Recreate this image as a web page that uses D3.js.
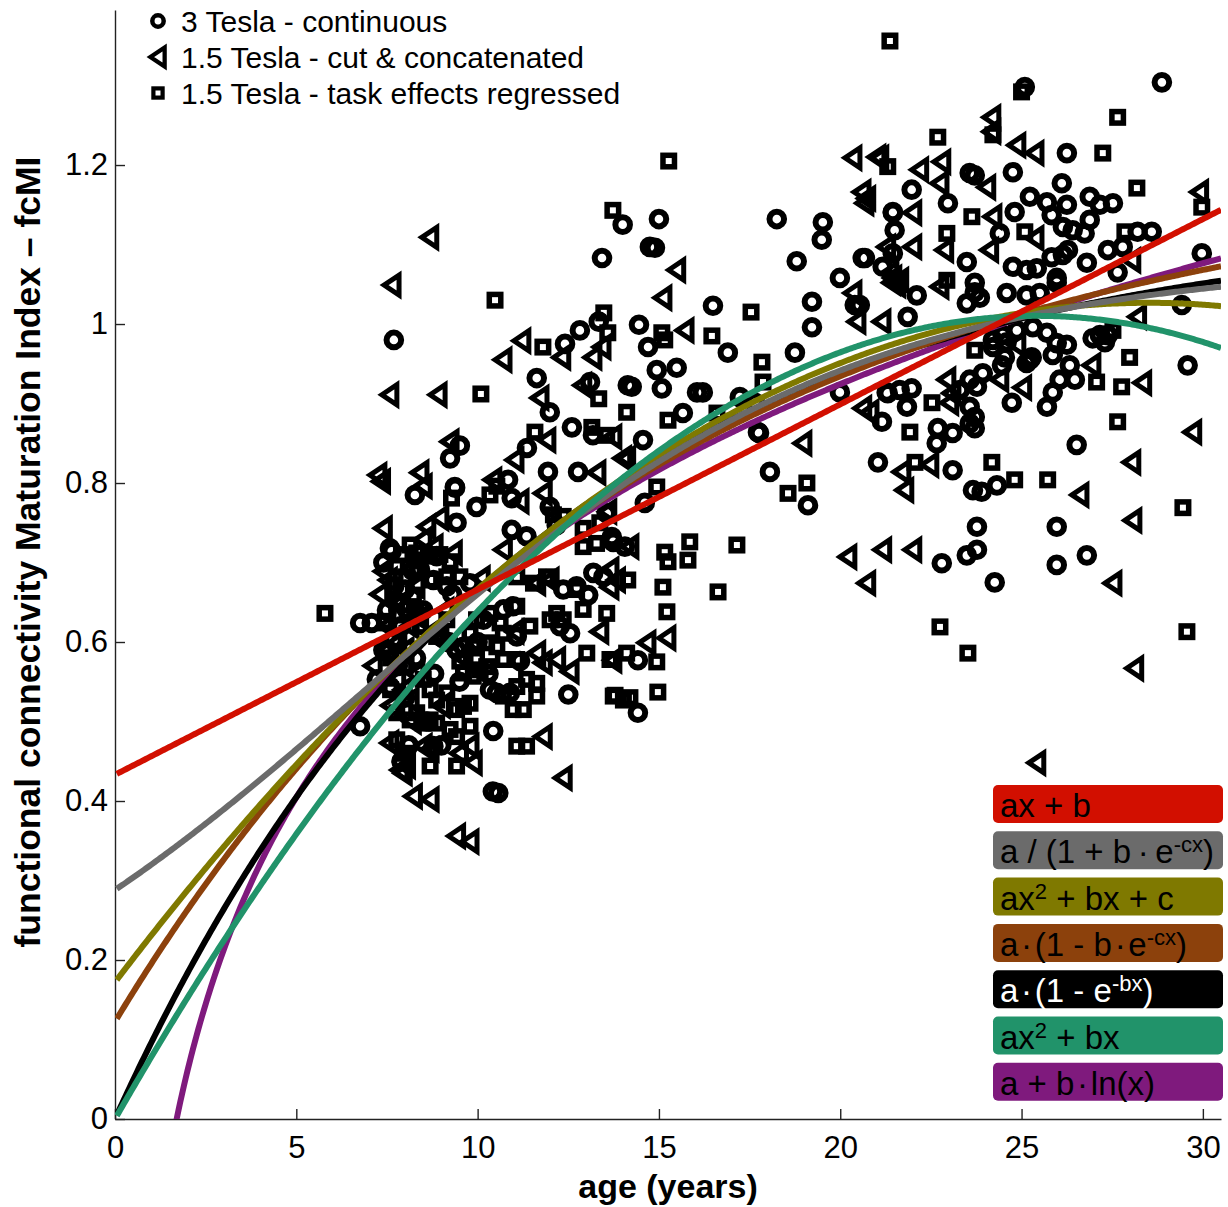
<!DOCTYPE html>
<html>
<head>
<meta charset="utf-8">
<script src="https://cdn.jsdelivr.net/npm/d3@7"></script>
<style>
body{margin:0;background:#fff;}
svg text{font-family:"Liberation Sans",Arial,Helvetica,sans-serif;}
</style>
</head>
<body>
<svg id="chart" width="1228" height="1207"></svg>
<script>
var ageTicks = [0, 5, 10, 15, 20, 25, 30];
var fcmiTicks = [0, 0.2, 0.4, 0.6, 0.8, 1, 1.2];

var seriesNames = ["3 Tesla - continuous", "1.5 Tesla - cut & concatenated", "1.5 Tesla - task effects regressed"];

// [age, fcMI]
var tesla3Continuous = [
	[7.69,0.98],[12.41,0.975],[12.82,0.992],[13.34,1.003],[13.43,1.083],[14.0,1.125],[11.63,0.932],[11.99,0.889],
	[13.10,0.927],[14.14,0.923],[12.60,0.870],[13.18,0.860],[11.36,0.844],[9.51,0.847],[9.24,0.831],[11.94,0.814],
	[12.77,0.814],[10.84,0.804],[9.37,0.795],[8.27,0.785],[9.38,0.794],[9.97,0.770],[10.94,0.781],[11.99,0.770],
	[9.42,0.750],[10.94,0.741],[11.35,0.733],[7.58,0.718],[7.63,0.714],[8.87,0.708],[6.76,0.624],[7.08,0.624],
	[7.53,0.587],[7.40,0.590],[7.68,0.603],[8.04,0.641],[12.50,0.534],[10.43,0.488],[10.57,0.410],[10.42,0.412],
	[8.78,0.469],[6.76,0.494],[12.18,0.747],[13.74,0.726],[14.06,0.720],[13.56,0.762],[12.36,0.666],[12.73,0.670],
	[13.05,0.659],[13.19,0.687],[13.47,0.682],[9.79,0.674],[8.41,0.691],[8.78,0.678],[9.15,0.670],[8.00,0.666],
	[7.22,0.553],[7.58,0.544],[10.16,0.628],[10.71,0.641],[10.98,0.645],[11.08,0.607],[9.42,0.590],[9.61,0.594],
	[11.17,0.576],[10.34,0.540],[10.53,0.536],[10.89,0.536],[12.27,0.620],[12.55,0.611],
	[7.9,0.62],[8.3,0.58],[8.8,0.56],[9.2,0.60],[8.0,0.53],[8.6,0.50],[9.0,0.47],[9.5,0.55],[10.0,0.60],
	[10.3,0.56],[7.7,0.67],[8.5,0.64],[9.3,0.66],[7.4,0.70],[7.8,0.57],[8.2,0.69],[7.5,0.64],[8.1,0.47],[7.9,0.45],
	[18.06,0.814],[19.11,0.772],[21.04,0.826],[14.42,0.577],[14.42,0.511],[13.70,0.732],[14.61,0.775],[17.76,0.863],
	[14.56,0.854],[15.0,1.132],[14.75,1.097],[14.89,1.096],[16.49,1.023],[14.45,0.999],[14.70,0.971],[16.90,0.964],
	[15.49,0.945],[14.94,0.942],[14.25,0.921],[15.08,0.919],[16.05,0.914],[16.21,0.914],[17.23,0.908],[17.65,0.901],
	[15.66,0.888],[17.73,0.864],[18.25,1.132],[19.52,1.128],[19.49,1.106],[18.80,1.079],[19.99,1.058],[20.40,1.024],
	[19.22,1.028],[19.22,0.996],[18.75,0.964],[20.62,1.083],[21.45,1.141],[21.50,1.118],[21.45,1.089],[21.17,1.072],
	[19.99,0.914],[21.31,0.913],[21.15,0.877],
	[25.09,1.298],[28.87,1.304],[26.25,1.215],[24.76,1.191],[23.57,1.190],[23.71,1.187],[26.11,1.177],[21.97,1.169],
	[22.97,1.152],[25.23,1.160],[25.70,1.153],[26.25,1.150],[26.88,1.160],[27.52,1.152],[27.16,1.150],[21.45,1.140],
	[24.81,1.141],[25.83,1.137],[26.14,1.122],[26.41,1.118],[26.74,1.114],[26.88,1.131],[24.40,1.114],[28.20,1.116],
	[28.59,1.116],[20.68,1.083],[23.49,1.078],[24.76,1.072],[25.14,1.068],[25.42,1.070],[25.83,1.084],[26.14,1.087],
	[26.28,1.093],[26.80,1.077],[27.38,1.093],[27.79,1.097],[27.65,1.065],[29.97,1.089],[23.71,1.052],[25.97,1.058],
	[29.42,1.024],[29.58,0.948],[26.96,0.982],[27.16,0.986],[27.30,0.977],[27.38,0.986],[26.33,0.948],[26.47,0.930],
	[26.05,0.930],[25.86,0.914],[25.70,0.896],[24.73,0.901],[25.14,0.951],[25.28,0.958],[25.86,0.961],[26.25,0.974],
	[24.46,0.948],[24.54,0.958],[24.21,0.980],[24.48,0.986],[24.87,0.992],[25.31,0.996],[25.70,0.989],[25.97,0.976],
	[24.59,1.039],[25.14,1.036],[25.50,1.039],[25.97,1.052],[23.49,1.026],[23.85,1.033],[23.71,1.040],[22.11,1.036],
	[21.86,1.009],[20.54,1.024],[24.21,0.971],[24.59,0.977],[25.23,0.955],[23.30,0.917],[23.57,0.930],[23.77,0.921],
	[23.93,0.938],[23.57,0.896],[23.71,0.883],[23.57,0.875],[23.71,0.869],[21.28,0.914],[21.64,0.917],[21.97,0.919],
	[21.84,0.896],[22.69,0.869],[22.66,0.850],[23.10,0.863],[23.10,0.816],[23.66,0.791],[23.90,0.789],[24.32,0.797],
	[26.52,0.848],[23.77,0.745],[25.97,0.745],[22.80,0.699],[23.49,0.709],[23.77,0.716],[24.26,0.675],[25.97,0.697],
	[26.80,0.709]
];

var tesla15Cut = [
	[8.68,1.109],[7.64,1.049],[11.22,0.979],[12.32,0.958],[10.70,0.955],[13.18,0.958],[13.43,0.971],[7.58,0.911],
	[8.91,0.911],[11.72,0.907],[12.90,0.923],[11.91,0.854],[13.73,0.858],[11.03,0.829],[9.24,0.852],[7.25,0.810],
	[8.41,0.813],[13.29,0.813],[14.0,0.831],[10.42,0.804],[7.35,0.802],[8.50,0.796],[11.17,0.777],[11.81,0.787],
	[7.40,0.743],[8.60,0.745],[8.96,0.756],[10.71,0.716],[8.50,0.729],[9.33,0.712],[7.40,0.689],[7.54,0.678],
	[11.63,0.674],[12.00,0.678],[13.65,0.691],[13.83,0.678],[13.37,0.613],[8.14,0.620],[8.69,0.611],[8.96,0.603],
	[11.03,0.613],[11.63,0.586],[11.81,0.574],[12.18,0.578],[12.55,0.563],[7.77,0.553],[7.95,0.540],[8.14,0.527],
	[7.58,0.473],[8.50,0.469],[8.69,0.465],[7.86,0.439],[7.95,0.435],[8.04,0.444],[8.23,0.406],[8.69,0.402],
	[9.42,0.356],[9.79,0.349],[12.36,0.429],[9.88,0.448],[9.79,0.469],[11.81,0.481],[7.12,0.570],
	[8.0,0.59],[8.4,0.63],[9.1,0.64],[9.6,0.58],[8.2,0.50],[9.0,0.52],[9.5,0.46],[7.9,0.65],[8.8,0.72],[10.1,0.68],
	[7.5,0.62],[7.8,0.60],[8.3,0.67],[7.6,0.52],[8.3,0.56],[7.3,0.66],
	[18.97,0.850],[20.21,0.707],[21.17,0.716],[20.73,0.674],[15.22,0.605],[14.67,0.599],[13.73,0.577],[13.65,0.669],
	[14.20,0.720],[13.59,0.764],[14.11,0.831],[15.49,1.068],[15.11,1.033],[15.72,0.992],[20.35,1.209],[21.01,1.210],
	[20.60,1.166],[20.68,1.152],[21.28,1.097],[21.37,1.064],[21.42,1.052],[20.35,1.039],[20.46,1.003],[21.15,1.003],
	[20.82,0.889],[24.18,1.260],[24.18,1.242],[24.87,1.225],[25.37,1.215],[21.09,1.209],[22.19,1.194],[22.80,1.204],
	[22.75,1.177],[24.04,1.172],[20.73,1.158],[29.91,1.166],[22.0,1.140],[24.21,1.135],[25.37,1.108],[28.04,1.080],
	[22.0,1.097],[22.88,1.093],[24.12,1.093],[21.45,1.058],[21.64,1.055],[28.20,1.009],[28.34,0.926],[26.94,0.948],
	[25.03,0.920],[24.40,0.930],[22.75,1.047],[21.56,1.049],[24.87,0.974],[22.94,0.930],[23.08,0.913],[20.62,0.894],
	[23.02,0.901],[22.47,0.823],[21.70,0.814],[21.78,0.791],[28.04,0.826],[29.72,0.864],[26.61,0.785],[28.07,0.753],
	[22.0,0.716],[27.52,0.674],[28.12,0.567],[25.42,0.448]
];

var tesla15Regressed = [
	[10.48,1.030],[11.80,0.971],[13.48,1.014],[13.59,0.989],[13.73,1.143],[10.09,0.912],[13.34,0.906],[14.11,0.889],
	[11.58,0.864],[13.15,0.870],[13.56,0.860],[9.28,0.781],[10.34,0.785],[10.53,0.796],[8.14,0.722],[8.32,0.712],
	[8.41,0.703],[8.69,0.708],[8.96,0.710],[9.24,0.701],[12.09,0.760],[12.36,0.758],[12.91,0.743],[13.37,0.750],
	[12.91,0.720],[13.28,0.724],[7.77,0.695],[8.04,0.682],[8.32,0.689],[8.69,0.678],[9.15,0.682],[9.51,0.682],
	[11.08,0.682],[11.54,0.674],[11.90,0.682],[12.73,0.666],[13.56,0.636],[8.23,0.659],[7.77,0.649],[7.45,0.626],
	[7.77,0.634],[8.41,0.620],[8.87,0.607],[9.15,0.628],[9.97,0.628],[10.34,0.636],[10.62,0.624],[11.08,0.645],
	[11.44,0.620],[9.79,0.611],[9.88,0.594],[10.25,0.599],[10.53,0.594],[10.71,0.611],[9.51,0.576],[9.97,0.578],
	[10.25,0.569],[10.71,0.578],[11.08,0.578],[12.00,0.628],[12.18,0.636],[12.36,0.628],[12.91,0.641],[13.01,0.586],
	[13.65,0.578],[9.61,0.561],[9.88,0.557],[10.07,0.565],[10.71,0.532],[11.08,0.544],[11.35,0.553],[11.63,0.548],
	[10.98,0.515],[11.26,0.515],[11.63,0.532],[13.74,0.532],[14.02,0.527],[8.50,0.553],[8.69,0.540],[8.87,0.527],
	[9.15,0.536],[9.42,0.515],[9.61,0.519],[9.79,0.523],[8.32,0.511],[8.69,0.502],[7.77,0.511],[8.14,0.502],
	[8.50,0.498],[8.87,0.498],[9.24,0.490],[9.42,0.481],[9.79,0.494],[11.08,0.469],[11.35,0.469],[8.69,0.444],
	[9.42,0.444],[7.77,0.477],[14.11,0.586],[5.79,0.636],[7.44,0.624],
	[7.6,0.58],[8.0,0.57],[7.9,0.71],[8.3,0.64],[7.6,0.54],[8.0,0.46],
	[18.56,0.787],[19.08,0.800],[15.16,0.713],[15.85,0.726],[15.80,0.703],[15.25,0.701],[17.15,0.722],[15.11,0.669],
	[16.63,0.663],[15.22,0.638],[14.94,0.575],[14.97,0.537],[13.79,0.533],[14.20,0.530],[14.14,0.678],[14.94,0.795],
	[15.27,1.205],[17.54,1.015],[16.46,0.985],[15.08,0.989],[15.16,0.980],[17.84,0.952],[17.87,0.927],[16.60,0.888],
	[15.25,0.879],[21.31,1.198],[21.37,1.356],[25.0,1.292],[27.65,1.260],[24.21,1.238],[22.69,1.235],[27.24,1.215],
	[28.18,1.171],[29.97,1.147],[23.63,1.135],[22.94,1.114],[25.09,1.116],[27.85,1.116],[22.94,1.055],[27.98,0.958],
	[27.76,0.921],[27.07,0.927],[27.52,0.992],[23.71,0.967],[21.92,0.864],[22.53,0.901],[22.06,0.826],[24.18,0.826],
	[24.81,0.804],[25.72,0.804],[27.65,0.877],[29.45,0.769],[22.75,0.619],[23.52,0.586],[29.56,0.613]
];

// fitted models, legend order
var dot = "\u200a\u00b7\u200a";
var fitLabels = [
	[["ax + b", 0]],
	[["a / (1 + b\u2009\u00b7\u2009e", 0], ["-cx", 1], [")", 0]],
	[["ax", 0], ["2", 1], [" + bx + c", 0]],
	[["a" + dot + "(1 - b" + dot + "e", 0], ["-cx", 1], [")", 0]],
	[["a" + dot + "(1 - e", 0], ["-bx", 1], [")", 0]],
	[["ax", 0], ["2", 1], [" + bx", 0]],
	[["a + b" + dot + "ln(x)", 0]]
];
var fitColours = ["#d20f00", "#6b6b6b", "#7f7900", "#8c410c", "#000000", "#21936a", "#7f1a7d"];
var fitTextColours = ["#000", "#000", "#000", "#000", "#fff", "#000", "#000"];
var fitParams = [
	[0.0233, 0.433],
	[1.08, 2.75, 0.1464],
	[-0.001053, 0.0600, 0.172],
	[1.2, 0.898, 0.07],
	[1.13, 0.0887],
	[-0.001564, 0.0795],
	[-0.199, 0.375]
];
var fitModels = [
	function(p, t){ return p[0]*t + p[1]; },
	function(p, t){ return p[0]/(1 + p[1]*Math.exp(-p[2]*t)); },
	function(p, t){ return p[0]*t*t + p[1]*t + p[2]; },
	function(p, t){ return p[0]*(1 - p[1]*Math.exp(-p[2]*t)); },
	function(p, t){ return p[0]*(1 - Math.exp(-p[1]*t)); },
	function(p, t){ return p[0]*t*t + p[1]*t; },
	function(p, t){ return p[0] + p[1]*Math.log(t); }
];
//drawing order of the curves (bottom to top)
var drawOrder = [6, 4, 3, 2, 1, 5, 0];

var svg = d3.select("#chart");
var font = "'Liberation Sans',Arial,Helvetica,sans-serif";

var x = d3.scaleLinear().domain([0, 30.5]).range([115, 1221]);
var y = d3.scaleLinear().domain([0, 1.395]).range([1119, 10]);

svg.append("defs").append("clipPath").attr("id", "plotClip")
	.append("rect")
		.attr("x", x(0)).attr("y", y(1.395))
		.attr("width", x(30.5) - x(0)).attr("height", y(0) - y(1.395));

//axes
var gx = svg.append("g")
	.attr("transform", "translate(0," + y(0) + ")")
	.call(d3.axisBottom(x).tickValues(ageTicks).tickSizeInner(-10).tickSizeOuter(0).tickPadding(17)
		.tickFormat(function(d){ return d; }));
var gy = svg.append("g")
	.attr("transform", "translate(" + x(0) + ",0)")
	.call(d3.axisLeft(y).tickValues(fcmiTicks).tickSizeInner(-10).tickSizeOuter(0).tickPadding(7)
		.tickFormat(function(d){ return String(+d.toFixed(1)); }));
[gx, gy].forEach(function(g){
	g.attr("font-size", 31).attr("font-family", font);
	g.selectAll("path.domain").attr("stroke", "#222").attr("stroke-width", 1.4);
	g.selectAll(".tick line").attr("stroke", "#222").attr("stroke-width", 1.4);
	g.selectAll(".tick text").attr("fill", "#000");
});

svg.append("text")
	.attr("x", 668).attr("y", 1198)
	.attr("text-anchor", "middle")
	.attr("font-size", 34).attr("font-weight", "bold")
	.text("age (years)");
svg.append("text")
	.attr("transform", "translate(40,552) rotate(-90)")
	.attr("text-anchor", "middle")
	.attr("font-size", 35.5).attr("font-weight", "bold")
	.text("functional connectivity Maturation Index \u2013 fcMI");

//markers
var triPath = "M-8,0L7,-10L7,10Z";
function drawMarker(sel, kind, scale){
	var s = scale || 1;
	if(kind === 0)
		sel.append("circle").attr("r", 7.3*s);
	else if(kind === 1)
		sel.append("path").attr("d", triPath).attr("transform", "scale(" + s + ")");
	else
		sel.append("rect").attr("x", -5.75*s).attr("y", -5.75*s).attr("width", 11.5*s).attr("height", 11.5*s);
}
var markerStroke = [6, 5, 5.5];

var pointsLayer = svg.append("g")
	.attr("fill", "none").attr("stroke", "#000")
	.attr("stroke-linejoin", "miter");
[tesla3Continuous, tesla15Cut, tesla15Regressed].forEach(function(data, k){
	pointsLayer.append("g")
		.attr("stroke-width", markerStroke[k])
		.selectAll("g")
		.data(data)
		.enter().append("g")
			.attr("transform", function(d){ return "translate(" + x(d[0]) + "," + y(d[1]) + ")"; })
			.each(function(){ drawMarker(d3.select(this), k); });
});

//fit curves
var ages = d3.range(0.05, 30.55, 0.05);
var line = d3.line()
	.x(function(d){ return x(d[0]); })
	.y(function(d){ return y(d[1]); });
var curves = svg.append("g").attr("clip-path", "url(#plotClip)");
drawOrder.forEach(function(i){
	var pts = ages.map(function(t){ return [t, fitModels[i](fitParams[i], t)]; })
		.filter(function(d){ return d[1] > -0.2; });
	curves.append("path")
		.attr("d", line(pts))
		.attr("fill", "none")
		.attr("stroke", fitColours[i])
		.attr("stroke-width", 6);
});

//series legend
var legendScale = [0.78, 0.95, 0.8];
var legendStroke = [4.5, 4.5, 4.2];
var legend = svg.append("g");
seriesNames.forEach(function(name, k){
	var cy = 21 + k*36;
	var m = legend.append("g")
		.attr("transform", "translate(158," + cy + ")")
		.attr("fill", "none").attr("stroke", "#000").attr("stroke-width", legendStroke[k]);
	drawMarker(m, k, legendScale[k]);
	legend.append("text")
		.attr("x", 181).attr("y", cy + 10.5)
		.attr("font-size", 30)
		.text(name);
});

//fit legend
var fitLegend = svg.append("g");
fitLabels.forEach(function(parts, i){
	var top = 785 + i*46.3;
	fitLegend.append("rect")
		.attr("x", 993).attr("y", top)
		.attr("width", 230).attr("height", 38)
		.attr("rx", 5)
		.attr("fill", fitColours[i]);
	var t = fitLegend.append("text")
		.attr("x", 1000).attr("y", top + 32)
		.attr("font-size", 33)
		.attr("fill", fitTextColours[i]);
	var raised = false;
	parts.forEach(function(p){
		var ts = t.append("tspan").text(p[0]);
		if(p[1]){
			ts.attr("font-size", 22).attr("dy", -11);
			raised = true;
		}else if(raised){
			ts.attr("dy", 11);
			raised = false;
		}
	});
});
</script>
</body>
</html>
